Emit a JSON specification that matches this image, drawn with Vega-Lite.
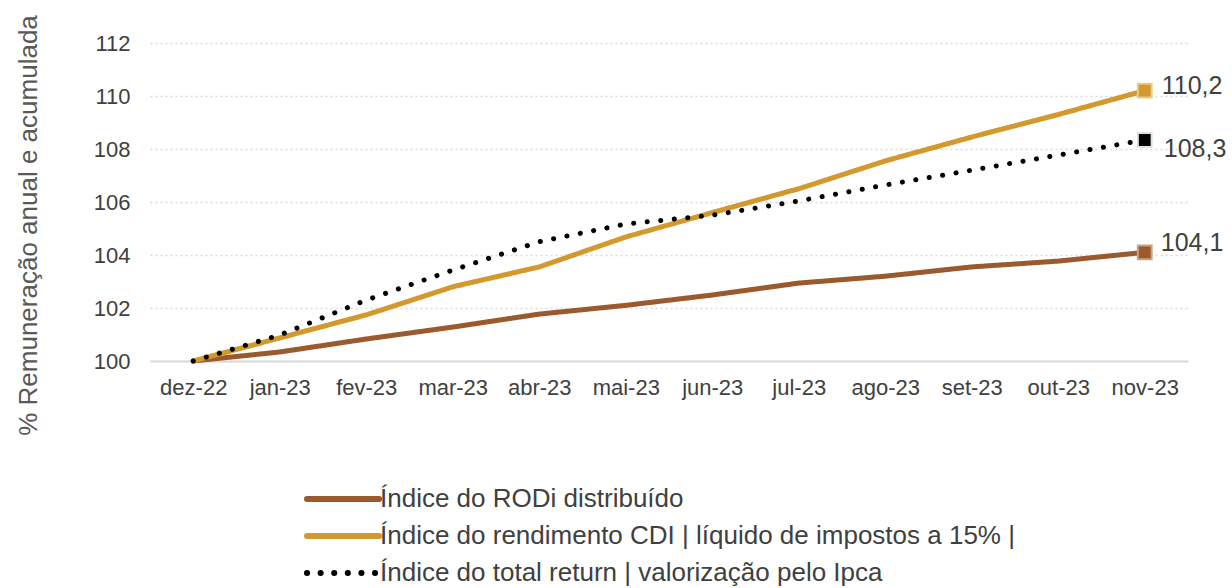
{
  "$schema": "https://vega.github.io/schema/vega-lite/v6.json",
  "width": 1038,
  "height": 318,
  "autosize": "none",
  "padding": {"left": 150, "top": 43, "right": 44, "bottom": 227},
  "background": "white",
  "config": {
    "view": {"stroke": null},
    "font": "Liberation Sans",
    "axis": {"labelColor": "#404040", "labelFontSize": 22, "ticks": false, "titleColor": "#595959"},
    "legend": {"labelFont": "Liberation Sans", "labelFontSize": 26, "labelColor": "#404040", "labelLimit": 0}
  },
  "data": {"values": [
    {"mes": "dez-22", "serie": "RODi", "v": 100},
    {"mes": "jan-23", "serie": "RODi", "v": 100.34},
    {"mes": "fev-23", "serie": "RODi", "v": 100.83},
    {"mes": "mar-23", "serie": "RODi", "v": 101.28},
    {"mes": "abr-23", "serie": "RODi", "v": 101.77},
    {"mes": "mai-23", "serie": "RODi", "v": 102.1},
    {"mes": "jun-23", "serie": "RODi", "v": 102.49},
    {"mes": "jul-23", "serie": "RODi", "v": 102.94},
    {"mes": "ago-23", "serie": "RODi", "v": 103.2},
    {"mes": "set-23", "serie": "RODi", "v": 103.55},
    {"mes": "out-23", "serie": "RODi", "v": 103.77},
    {"mes": "nov-23", "serie": "RODi", "v": 104.1, "rot": "104,1"},
    {"mes": "dez-22", "serie": "CDI", "v": 100},
    {"mes": "jan-23", "serie": "CDI", "v": 100.87},
    {"mes": "fev-23", "serie": "CDI", "v": 101.74},
    {"mes": "mar-23", "serie": "CDI", "v": 102.8},
    {"mes": "abr-23", "serie": "CDI", "v": 103.55},
    {"mes": "mai-23", "serie": "CDI", "v": 104.68},
    {"mes": "jun-23", "serie": "CDI", "v": 105.6},
    {"mes": "jul-23", "serie": "CDI", "v": 106.5},
    {"mes": "ago-23", "serie": "CDI", "v": 107.55},
    {"mes": "set-23", "serie": "CDI", "v": 108.45},
    {"mes": "out-23", "serie": "CDI", "v": 109.3},
    {"mes": "nov-23", "serie": "CDI", "v": 110.2, "rot": "110,2"},
    {"mes": "dez-22", "serie": "TR", "v": 100},
    {"mes": "jan-23", "serie": "TR", "v": 100.98},
    {"mes": "fev-23", "serie": "TR", "v": 102.3},
    {"mes": "mar-23", "serie": "TR", "v": 103.43},
    {"mes": "abr-23", "serie": "TR", "v": 104.5},
    {"mes": "mai-23", "serie": "TR", "v": 105.17},
    {"mes": "jun-23", "serie": "TR", "v": 105.5},
    {"mes": "jul-23", "serie": "TR", "v": 106.04},
    {"mes": "ago-23", "serie": "TR", "v": 106.64},
    {"mes": "set-23", "serie": "TR", "v": 107.2},
    {"mes": "out-23", "serie": "TR", "v": 107.77},
    {"mes": "nov-23", "serie": "TR", "v": 108.34, "rot": "108,3"}
  ]},
  "encoding": {
    "x": {"field": "mes", "type": "ordinal", "sort": null,
      "scale": {"type": "point", "padding": 0.5},
      "axis": {"title": null, "labelAngle": 0, "labelPadding": 16, "domainColor": "#d9d9d9", "domainWidth": 2, "grid": false}},
    "y": {"field": "v", "type": "quantitative",
      "scale": {"domain": [100, 112], "nice": false, "zero": false},
      "axis": {"title": "% Remuneração  anual e acumulada", "titleFontSize": 26, "titleFontWeight": "normal",
        "titleAngle": -90, "titleX": -122, "titleY": 182, "titleAlign": "center", "titleBaseline": "middle",
        "values": [100, 102, 104, 106, 108, 110, 112], "labelPadding": 20, "domain": false,
        "gridColor": "#d9d9d9", "gridDash": [2, 3], "gridWidth": 1.5}}
  },
  "layer": [
    {
      "mark": {"type": "line", "strokeCap": "round", "strokeWidth": 5},
      "encoding": {
        "color": {"field": "serie", "type": "nominal",
          "scale": {"domain": ["RODi", "CDI", "TR"], "range": ["#9B5A2E", "#D4992E", "#000000"]},
          "legend": {"orient": "none", "legendX": 184, "legendY": 434, "direction": "vertical", "title": null,
            "symbolType": "M-2.58,0H1.22", "symbolSize": 1444, "symbolStrokeWidth": 6, "labelOffset": 2, "rowPadding": 2,
            "labelExpr": "datum.label == 'RODi' ? 'Índice do RODi distribuído' : datum.label == 'CDI' ? 'Índice do rendimento CDI | líquido de impostos a 15% |' : 'Índice do total return | valorização pelo Ipca'",
            "encode": {"symbols": {"update": {"strokeCap": {"value": "round"}}}}}},
        "strokeDash": {"field": "serie", "type": "nominal",
          "scale": {"domain": ["RODi", "CDI", "TR"], "range": [[1, 0], [1, 0], [0.1, 13.5]]},
          "legend": {"orient": "none", "legendX": 184, "legendY": 434, "direction": "vertical", "title": null,
            "symbolType": "M-2.58,0H1.22", "symbolSize": 1444, "symbolStrokeWidth": 6, "labelOffset": 2, "rowPadding": 2,
            "labelExpr": "datum.label == 'RODi' ? 'Índice do RODi distribuído' : datum.label == 'CDI' ? 'Índice do rendimento CDI | líquido de impostos a 15% |' : 'Índice do total return | valorização pelo Ipca'",
            "encode": {"symbols": {"update": {"strokeCap": {"value": "round"}}}}}},
        "strokeWidth": {"condition": {"test": "datum.serie == 'TR'", "value": 9}, "value": 5}
      }
    },
    {
      "transform": [{"filter": "datum.rot"}],
      "mark": {"type": "square", "size": 190, "opacity": 1, "filled": true, "strokeWidth": 2},
      "encoding": {
        "color": {"field": "serie", "type": "nominal", "legend": null},
        "stroke": {"field": "serie", "type": "nominal",
          "scale": {"domain": ["RODi", "CDI", "TR"], "range": ["#c9a080", "#ecc98a", "#e0e0e0"]}, "legend": null}
      }
    },
    {
      "transform": [{"filter": "datum.serie == 'CDI'"}, {"filter": "datum.rot"}],
      "mark": {"type": "text", "align": "left", "baseline": "middle", "dx": 17, "dy": -5, "fontSize": 25, "color": "#404040"},
      "encoding": {"text": {"field": "rot"}}
    },
    {
      "transform": [{"filter": "datum.serie == 'TR'"}, {"filter": "datum.rot"}],
      "mark": {"type": "text", "align": "left", "baseline": "middle", "dx": 19, "dy": 9, "fontSize": 25, "color": "#404040"},
      "encoding": {"text": {"field": "rot"}}
    },
    {
      "transform": [{"filter": "datum.serie == 'RODi'"}, {"filter": "datum.rot"}],
      "mark": {"type": "text", "align": "left", "baseline": "middle", "dx": 16, "dy": -9, "fontSize": 25, "color": "#404040"},
      "encoding": {"text": {"field": "rot"}}
    }
  ]
}
